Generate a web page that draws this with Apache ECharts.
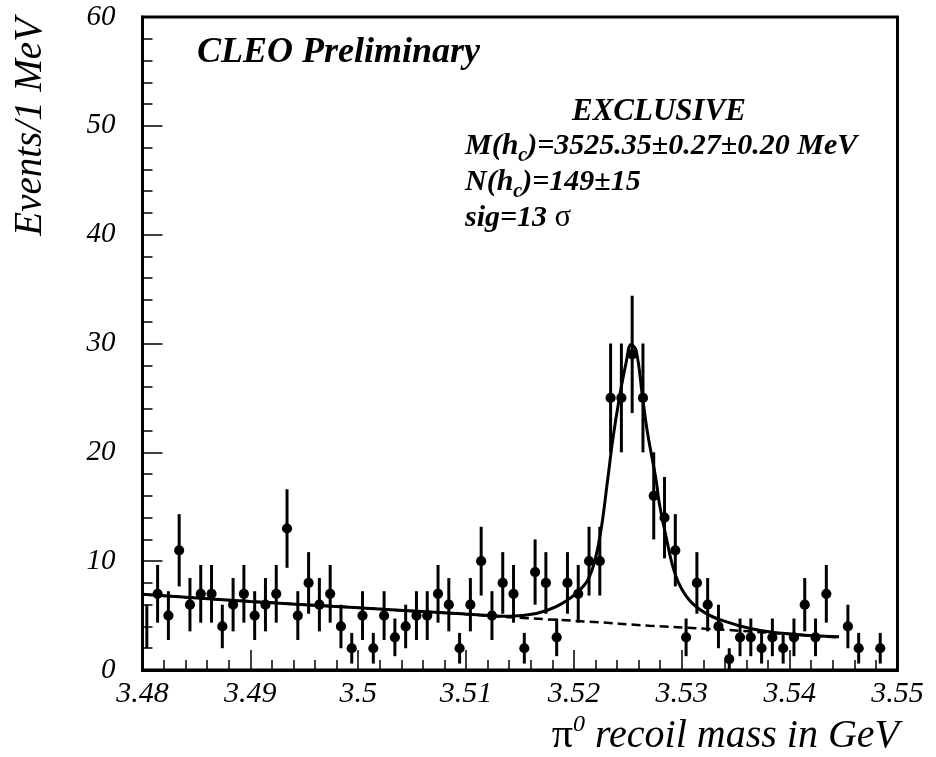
<!DOCTYPE html>
<html>
<head>
<meta charset="utf-8">
<script src="https://cdn.jsdelivr.net/npm/echarts@6/dist/echarts.min.js"></script>
<style>
html,body{margin:0;padding:0;background:#fff;}
#chart{width:936px;height:757px;}
</style>
</head>
<body>
<div id="chart"></div>
<script>
// ---- data ----
const binCenters = [
  3.4804, 3.4814, 3.4824, 3.4834, 3.4844, 3.4854, 3.4864, 3.4874, 3.4884, 3.4894,
  3.4904, 3.4914, 3.4924, 3.4934, 3.4944, 3.4954, 3.4964, 3.4974, 3.4984, 3.4994,
  3.5004, 3.5014, 3.5024, 3.5034, 3.5044, 3.5054, 3.5064, 3.5074, 3.5084, 3.5094,
  3.5104, 3.5114, 3.5124, 3.5134, 3.5144, 3.5154, 3.5164, 3.5174, 3.5184, 3.5194,
  3.5204, 3.5214, 3.5224, 3.5234, 3.5244, 3.5254, 3.5264, 3.5274, 3.5284, 3.5294,
  3.5304, 3.5314, 3.5324, 3.5334, 3.5344, 3.5354, 3.5364, 3.5374, 3.5384, 3.5394,
  3.5404, 3.5414, 3.5424, 3.5434, 3.5454, 3.5464, 3.5484
];
const counts = [
  4, 7, 5, 11, 6, 7, 7, 4, 6, 7,
  5, 6, 7, 13, 5, 8, 6, 7, 4, 2,
  5, 2, 5, 3, 4, 5, 5, 7, 6, 2,
  6, 10, 5, 8, 7, 2, 9, 8, 3, 8,
  7, 10, 10, 25, 25, 29, 25, 16, 14, 11,
  3, 8, 6, 4, 1, 3, 3, 2, 3, 2,
  3, 6, 3, 7, 4, 2, 2
];
const errors = [
  2.0, 2.65, 2.24, 3.32, 2.45, 2.65, 2.65, 2.0, 2.45, 2.65,
  2.24, 2.45, 2.65, 3.61, 2.24, 2.83, 2.45, 2.65, 2.0, 1.41,
  2.24, 1.41, 2.24, 1.73, 2.0, 2.24, 2.24, 2.65, 2.45, 1.41,
  2.45, 3.16, 2.24, 2.83, 2.65, 1.41, 3.0, 2.83, 1.73, 2.83,
  2.65, 3.16, 3.16, 5.0, 5.0, 5.39, 5.0, 4.0, 3.74, 3.32,
  1.73, 2.83, 2.45, 2.0, 1.0, 1.73, 1.73, 1.41, 1.73, 1.41,
  1.73, 2.45, 1.73, 2.65, 2.0, 1.41, 1.41
];
// total fit (solid)
const fitX = [3.4800, 3.4900, 3.5000, 3.5100, 3.5140, 3.5165, 3.51835, 3.5202, 3.52144, 3.52236,
  3.52313, 3.52359, 3.52421, 3.52483, 3.5253, 3.52576, 3.52637, 3.52683, 3.52761, 3.52792,
  3.52854, 3.52946, 3.53069, 3.53224, 3.53409, 3.53625, 3.53841, 3.5415, 3.54458];
const fitY = [6.95, 6.30, 5.72, 5.15, 4.95, 5.20, 5.82, 7.05, 8.58, 12.0,
  17.5, 21.1, 25.0, 28.2, 29.9, 29.4, 25.0, 21.75, 17.5, 15.3,
  12.25, 8.6, 6.43, 5.2, 4.44, 3.83, 3.46, 3.2, 3.06];
// background (dashed)
const bkgX = [3.4800, 3.4900, 3.5000, 3.5100, 3.5153, 3.5214, 3.5270, 3.5322, 3.5385, 3.5446];
const bkgY = [6.95, 6.30, 5.72, 5.12, 4.78, 4.44, 4.07, 3.80, 3.40, 2.98];
const xTicks = [3.48, 3.49, 3.50, 3.51, 3.52, 3.53, 3.54, 3.55];
const yTicks = [0, 10, 20, 30, 40, 50, 60];

const FONT = '"Liberation Serif", "Times New Roman", serif';
const chart = echarts.init(document.getElementById('chart'), null, {renderer: 'canvas'});

const pts = binCenters.map((x, i) => [x, counts[i], errors[i]]);
const GL = 142.5, GT = 17, GR = 937 - 898.5, GB = 757 - 670;

chart.setOption({
  animation: false,
  backgroundColor: '#fff',
  grid: {left: GL, top: GT, right: GR, bottom: GB, show: true, borderColor: '#000', borderWidth: 3, backgroundColor: 'transparent'},
  xAxis: {
    type: 'value', min: xTicks[0], max: xTicks[xTicks.length - 1], interval: 0.01,
    axisLine: {show: true, onZero: false, lineStyle: {color: '#000', width: 3}},
    axisTick: {show: true, inside: true, length: 20, lineStyle: {color: '#000', width: 1.5}},
    minorTick: {show: true, splitNumber: 5, length: 10, lineStyle: {color: '#000', width: 1.5}},
    splitLine: {show: false},
    axisLabel: {
      margin: 9, color: '#000', fontFamily: FONT, fontStyle: 'italic', fontSize: 30,
      formatter: v => String(parseFloat(v.toFixed(3))),
      showMinLabel: true, showMaxLabel: true, hideOverlap: false
    }
  },
  yAxis: {
    type: 'value', min: yTicks[0], max: yTicks[yTicks.length - 1], interval: 10,
    axisLine: {show: true, onZero: false, lineStyle: {color: '#000', width: 3}},
    axisTick: {show: true, inside: true, length: 20, lineStyle: {color: '#000', width: 1.5}},
    minorTick: {show: true, splitNumber: 5, length: 10, lineStyle: {color: '#000', width: 1.5}},
    splitLine: {show: false},
    axisLabel: {margin: 27, color: '#000', fontFamily: FONT, fontStyle: 'italic', fontSize: 29, padding: [6, 0, 0, 0]}
  },
  series: [
    {
      type: 'custom', coordinateSystem: 'cartesian2d', clip: true, z: 2,
      data: pts,
      renderItem: function (params, api) {
        const x = api.value(0), y = api.value(1), e = api.value(2);
        const c = api.coord([x, y]);
        const t = api.coord([x, y + e]);
        const b = api.coord([x, Math.max(0, y - e)]);
        const cs = params.coordSys;
        const r = 5.1;
        const children = [{
          type: 'line', shape: {x1: c[0], y1: t[1], x2: c[0], y2: b[1]},
          style: {stroke: '#000', lineWidth: 3}
        }];
        if (c[0] - r >= cs.x) {
          children.push({type: 'circle', shape: {cx: c[0], cy: c[1], r: r}, style: {fill: '#000'}});
        }
        return {type: 'group', children: children};
      }
    },
    {
      type: 'line', z: 3, showSymbol: false, smooth: 0.4,
      data: bkgX.map((x, i) => [x, bkgY[i]]),
      lineStyle: {color: '#000', width: 2.5, type: [9, 5]}
    },
    {
      type: 'line', z: 4, showSymbol: false, smooth: 0.4,
      data: fitX.map((x, i) => [x, fitY[i]]),
      lineStyle: {color: '#000', width: 3}
    }
  ],
  graphic: [
    {type: 'text', left: 197, top: 35, style: {text: 'CLEO Preliminary', font: 'italic bold 36px ' + FONT, fill: '#000'}},
    {type: 'text', x: 659, y: 112, style: {text: 'EXCLUSIVE', font: 'italic bold 31px ' + FONT, fill: '#000', align: 'center', verticalAlign: 'middle'}},
    {type: 'text', x: 465, y: 146, style: {
      text: '{b|M(h}{s|c}{b|)=3525.35±0.27±0.20 MeV}', verticalAlign: 'middle', align: 'left',
      rich: {
        b: {font: 'italic bold 30px ' + FONT, fill: '#000'},
        s: {font: 'italic bold 20px ' + FONT, fill: '#000', padding: [20, 0, 0, 0]}
      }}},
    {type: 'text', x: 465, y: 182, style: {
      text: '{b|N(h}{s|c}{b|)=149±15}', verticalAlign: 'middle', align: 'left',
      rich: {
        b: {font: 'italic bold 30px ' + FONT, fill: '#000'},
        s: {font: 'italic bold 20px ' + FONT, fill: '#000', padding: [20, 0, 0, 0]}
      }}},
    {type: 'text', x: 465, y: 218, style: {
      text: '{b|sig=13 }{g|σ}', verticalAlign: 'middle', align: 'left',
      rich: {
        b: {font: 'italic bold 30px ' + FONT, fill: '#000'},
        g: {font: '31px ' + FONT, fill: '#000'}
      }}},
    {type: 'text', x: 31, y: 18, rotation: Math.PI / 2, style: {
      text: 'Events/1 MeV', font: 'italic 39px ' + FONT, fill: '#000', align: 'right', verticalAlign: 'middle'}},
    {type: 'text', x: 899, y: 736, style: {
      text: '{p|π}{s|0}{i| recoil mass in GeV}', align: 'right', verticalAlign: 'middle',
      rich: {
        p: {font: '42px ' + FONT, fill: '#000'},
        s: {font: 'italic 24px ' + FONT, fill: '#000', padding: [0, 0, 22, 0]},
        i: {font: 'italic 40px ' + FONT, fill: '#000'}
      }}}
  ]
});
</script>
</body>
</html>
